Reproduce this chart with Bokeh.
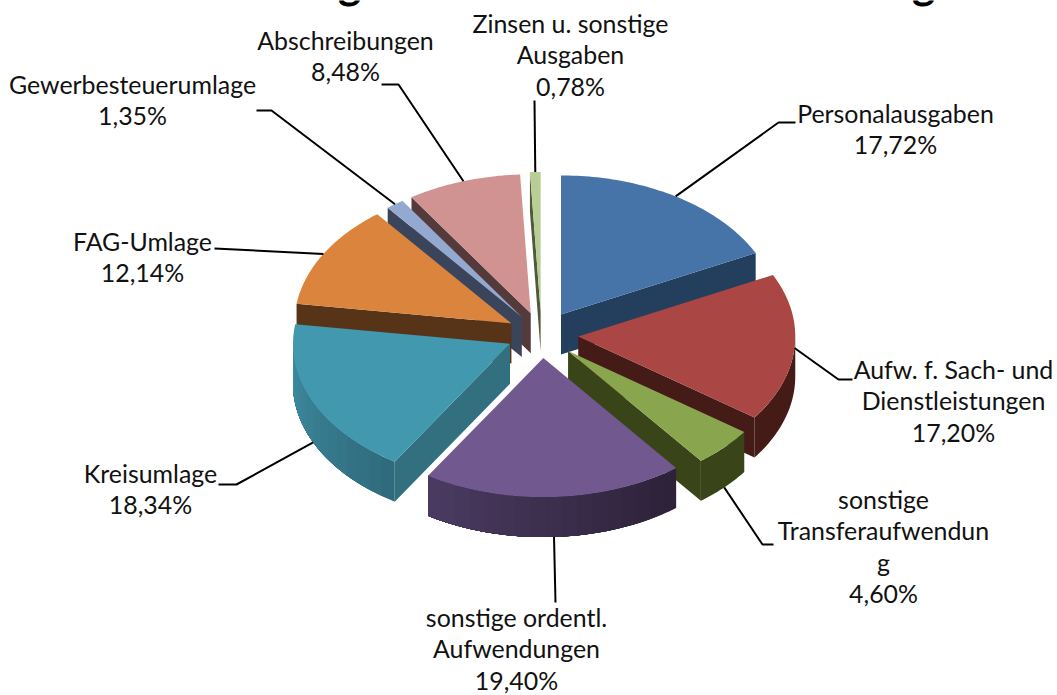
import math
from bokeh.plotting import figure
from bokeh.models import Range1d, ColumnDataSource
from bokeh.core.properties import value
from bokeh.embed import file_html
from bokeh.resources import INLINE

# --- data (clockwise from 12 o'clock) ---
categories = [
    ["Personalausgaben"],
    ["Aufw. f. Sach- und", "Dienstleistungen"],
    ["sonstige", "Transferaufwendun", "g"],
    ["sonstige ordentl.", "Aufwendungen"],
    ["Kreisumlage"],
    ["FAG-Umlage"],
    ["Gewerbesteuerumlage"],
    ["Abschreibungen"],
    ["Zinsen u. sonstige", "Ausgaben"],
]
shares = [17.72, 17.20, 4.60, 19.40, 18.34, 12.14, 1.35, 8.48, 0.78]
percent_labels = ["17,72%", "17,20%", "4,60%", "19,40%", "18,34%", "12,14%", "1,35%", "8,48%", "0,78%"]

# --- style / layout ---
top_colors = ["#4674a8", "#aa4643", "#89a54e", "#71588f", "#4198af", "#db843d", "#93a9cf", "#d19392", "#b9cd96"]
cut_colors = ["#243f5e", "#451b18", "#394419", "#2b2138", "#327080", "#573318", "#3a445a", "#553a3b", "#4e5a3a"]
wall_from = ["#243f5e", "#451b18", "#394419", "#2c2138", "#2f6a7c", "#573318", "#3a445a", "#553a3b", "#4e5a3a"]
wall_to = ["#243f5e", "#451b18", "#394419", "#4b3b62", "#3f8ca2", "#573318", "#3a445a", "#553a3b", "#4e5a3a"]
explode = [0.17, 0.17, 0.17, 0.17, 0.16, 0.16, 0.155, 0.16, 0.17]
draw_order = [8, 7, 6, 5, 4, 0, 1, 2, 3]
label_centers = [(895, 112), (953, 368), (883, 498), (516, 616), (150, 472), (142, 240), (132, 83), (345, 39), (570, 22)]
leader_ends = [[(778, 122), (795, 122)], [(838, 379), (852, 379)], [(762, 544), (773, 544)], [(555, 602)],
               [(236, 484), (218, 484)], [(214, 248)], [(271, 110), (256, 110)], [(398, 84), (381, 84)], [(534, 100)]]
CX, CY, RX, RY, DEPTH = 541, 334, 217, 139, 40
LINE_H, FONT = 31.6, "Lato"


def mix(c1, c2, t):
    a = [int(c1[i:i + 2], 16) for i in (1, 3, 5)]
    b = [int(c2[i:i + 2], 16) for i in (1, 3, 5)]
    return "#%02x%02x%02x" % tuple(round(a[k] + (b[k] - a[k]) * t) for k in range(3))


total = sum(shares)
edges = [0.0]
for s in shares:
    edges.append(edges[-1] + s / total * 360)


def pt(a, ox, oy):
    r = math.radians(a)
    return ox + RX * math.sin(r), oy - RY * math.cos(r)


xs, ys, fills = [], [], []


def add(poly, color):
    xs.append([q[0] for q in poly])
    ys.append([q[1] for q in poly])
    fills.append(color)


leaders_x, leaders_y = [], []
origins = {}
for i in range(len(shares)):
    a0, a1 = edges[i], edges[i + 1]
    mid = (a0 + a1) / 2
    ox, oy = pt(mid, CX, CY)
    ox = CX + (ox - CX) * explode[i]
    oy = CY + (oy - CY) * explode[i]
    origins[i] = (ox, oy, a0, a1, mid)

for i in draw_order:
    ox, oy, a0, a1, mid = origins[i]
    down = lambda q: (q[0], q[1] + DEPTH)
    apex = (ox, oy)
    # radial cut faces that face the viewer
    p0, p1 = pt(a0, ox, oy), pt(a1, ox, oy)
    if a0 > 180:
        add([apex, p0, down(p0), down(apex)], cut_colors[i])
    if a1 < 180:
        add([apex, p1, down(p1), down(apex)], cut_colors[i])
    # outer wall, in the front half only
    w0, w1 = max(a0, 90), min(a1, 270)
    if w1 > w0:
        n = 1 if wall_from[i] == wall_to[i] else max(2, int((w1 - w0) / 4))
        for k in range(n):
            b0 = w0 + (w1 - w0) * k / n
            b1 = w0 + (w1 - w0)  # each band runs on to the end; the next one paints over it
            arc = [pt(b0 + (b1 - b0) * m / 30, ox, oy) for m in range(31)]
            add(arc + [down(q) for q in reversed(arc)], mix(wall_from[i], wall_to[i], (k + .5) / n))
    # top face
    arc = [pt(a0 + (a1 - a0) * k / 60, ox, oy) for k in range(61)]
    add([apex] + arc, top_colors[i])

p = figure(width=1057, height=695, x_range=Range1d(0, 1057), y_range=Range1d(695, 0),
           output_backend="svg", toolbar_location=None, min_border=0, margin=0)
p.axis.visible = False
p.grid.visible = False
p.outline_line_color = None
p.background_fill_color = "white"

p.patches(xs="xs", ys="ys", fill_color="fills", line_color=None,
          source=ColumnDataSource(dict(xs=xs, ys=ys, fills=fills)))

# leader lines start on the rim of each slice, at its middle
for i in range(len(shares)):
    ox, oy, a0, a1, mid = origins[i]
    s = pt(mid, ox, oy)
    if 100 < mid < 260:
        s = (s[0], s[1] + DEPTH)
    path = [s] + leader_ends[i]
    leaders_x.append([q[0] for q in path])
    leaders_y.append([q[1] for q in path])
p.multi_line(leaders_x, leaders_y, line_color="black", line_width=2)

tx, ty, tt = [], [], []
for i, lines in enumerate(categories):
    cx, cy = label_centers[i]
    for j, t in enumerate(lines + [percent_labels[i]]):
        tx.append(cx)
        ty.append(cy + j * LINE_H)
        tt.append(t)
p.text(tx, ty, text=tt, text_font=value(FONT), text_font_size="24.9px", text_color="#111111",
       text_align="center", text_baseline="middle")

# the cropped chart title: only two descenders remain visible at the very top
p.text([349, 923], [-19, -19], text=["g", "g"], text_font=value(FONT), text_font_style="bold",
       text_font_size="44px", text_color="black", text_align="center", text_baseline="alphabetic")

open("out.html", "w").write(file_html(p, INLINE))
